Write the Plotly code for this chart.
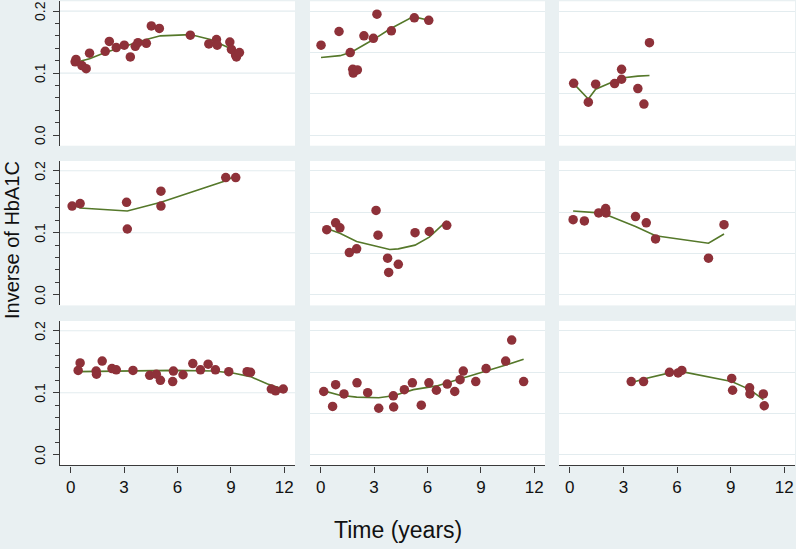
import plotly.graph_objects as go

# ---------------- data ----------------
p1_time = [0.25, 0.30, 0.63, 0.87, 1.06, 1.94, 2.17, 2.56, 3.01, 3.35, 3.63, 3.78, 4.25, 4.53, 4.98, 6.72, 7.76, 8.19, 8.23, 8.94, 9.03, 9.26, 9.31, 9.48]
p1_inv = [0.118, 0.122, 0.112, 0.107, 0.132, 0.135, 0.151, 0.141, 0.145, 0.126, 0.143, 0.149, 0.148, 0.176, 0.172, 0.161, 0.147, 0.154, 0.145, 0.150, 0.138, 0.129, 0.126, 0.133]
p1_fit_time = [0.25, 1.06, 1.94, 3.01, 4.25, 5.04, 6.72, 7.85, 8.79, 9.48]
p1_fit_inv = [0.117, 0.123, 0.133, 0.143, 0.154, 0.160, 0.162, 0.154, 0.142, 0.129]

p2_time = [0.02, 1.03, 1.66, 1.80, 1.83, 2.06, 2.43, 2.96, 3.16, 3.97, 5.26, 6.07]
p2_inv = [0.145, 0.167, 0.133, 0.106, 0.100, 0.105, 0.160, 0.156, 0.195, 0.168, 0.189, 0.185]
p2_fit_time = [0.02, 1.09, 1.74, 2.43, 2.96, 3.89, 5.20, 6.07]
p2_fit_inv = [0.125, 0.128, 0.134, 0.145, 0.154, 0.171, 0.191, 0.185]

p3_time = [0.22, 1.04, 1.45, 2.51, 2.90, 2.90, 3.81, 4.15, 4.46]
p3_inv = [0.0835, 0.053, 0.082, 0.083, 0.106, 0.090, 0.075, 0.050, 0.149]
p3_fit_time = [0.22, 1.04, 1.45, 2.51, 2.90, 3.81, 4.46]
p3_fit_inv = [0.083, 0.058, 0.074, 0.088, 0.092, 0.095, 0.096]

p4_time = [0.08, 0.53, 3.14, 3.18, 5.07, 5.07, 8.71, 9.27]
p4_inv = [0.143, 0.147, 0.149, 0.106, 0.167, 0.143, 0.189, 0.189]
p4_fit_time = [0.08, 0.53, 3.18, 5.07, 8.71, 9.27]
p4_fit_inv = [0.146, 0.140, 0.135, 0.149, 0.184, 0.192]

p5_time = [0.34, 0.84, 1.08, 1.61, 2.02, 3.11, 3.22, 3.76, 3.82, 4.36, 5.30, 6.10, 7.08]
p5_inv = [0.105, 0.116, 0.108, 0.068, 0.074, 0.136, 0.096, 0.059, 0.036, 0.049, 0.100, 0.102, 0.112]
p5_fit_time = [0.34, 1.08, 2.02, 3.22, 3.88, 4.36, 5.30, 6.10, 7.08]
p5_fit_inv = [0.107, 0.099, 0.086, 0.077, 0.073, 0.074, 0.080, 0.093, 0.119]

p6_time = [0.19, 0.82, 1.62, 2.01, 2.03, 3.68, 4.28, 4.80, 7.76, 8.63]
p6_inv = [0.121, 0.119, 0.132, 0.139, 0.132, 0.126, 0.116, 0.090, 0.059, 0.113]
p6_fit_time = [0.19, 0.82, 1.62, 2.05, 3.68, 4.80, 7.76, 8.63]
p6_fit_inv = [0.135, 0.134, 0.132, 0.129, 0.110, 0.095, 0.083, 0.098]

p7_time = [0.42, 0.53, 1.43, 1.45, 1.77, 2.32, 2.56, 3.50, 4.44, 4.81, 5.04, 5.73, 5.77, 6.31, 6.86, 7.29, 7.72, 8.13, 8.88, 9.91, 10.10, 11.27, 11.51, 11.94]
p7_inv = [0.136, 0.148, 0.135, 0.130, 0.151, 0.139, 0.137, 0.136, 0.128, 0.130, 0.120, 0.118, 0.135, 0.129, 0.147, 0.137, 0.146, 0.137, 0.134, 0.134, 0.133, 0.106, 0.103, 0.106]
p7_fit_time = [0.42, 3.56, 5.79, 8.04, 9.17, 10.10, 11.06, 11.94]
p7_fit_inv = [0.134, 0.135, 0.136, 0.135, 0.1315, 0.126, 0.114, 0.106]

p8_time = [0.17, 0.67, 0.84, 1.31, 2.04, 2.64, 3.26, 4.08, 4.10, 4.70, 5.15, 5.65, 6.08, 6.50, 7.11, 7.53, 7.83, 8.01, 8.71, 9.29, 10.39, 10.73, 11.40]
p8_inv = [0.102, 0.078, 0.113, 0.098, 0.116, 0.100, 0.075, 0.095, 0.077, 0.105, 0.116, 0.080, 0.116, 0.104, 0.114, 0.102, 0.121, 0.135, 0.118, 0.139, 0.151, 0.185, 0.118]
p8_fit_time = [0.17, 1.08, 2.02, 3.26, 4.08, 5.21, 6.52, 7.83, 9.33, 10.45, 11.40]
p8_fit_inv = [0.103, 0.096, 0.093, 0.092, 0.095, 0.105, 0.111, 0.122, 0.135, 0.145, 0.154]

p9_time = [3.44, 4.13, 5.58, 6.06, 6.27, 9.06, 9.11, 10.06, 10.08, 10.83, 10.88]
p9_inv = [0.118, 0.118, 0.133, 0.132, 0.136, 0.123, 0.104, 0.108, 0.098, 0.098, 0.079]
p9_fit_time = [3.44, 4.13, 5.58, 6.27, 9.06, 10.08, 10.83]
p9_fit_inv = [0.116, 0.122, 0.132, 0.134, 0.118, 0.105, 0.089]

x_ticks = [0, 3, 6, 9, 12]
y_ticks = [0.0, 0.1, 0.2]
y_tick_labels = ["0.0", "0.1", "0.2"]
x_title = "Time (years)"
y_title = "Inverse of HbA1C"

panels = [
    (p1_time, p1_inv, p1_fit_time, p1_fit_inv),
    (p2_time, p2_inv, p2_fit_time, p2_fit_inv),
    (p3_time, p3_inv, p3_fit_time, p3_fit_inv),
    (p4_time, p4_inv, p4_fit_time, p4_fit_inv),
    (p5_time, p5_inv, p5_fit_time, p5_fit_inv),
    (p6_time, p6_inv, p6_fit_time, p6_fit_inv),
    (p7_time, p7_inv, p7_fit_time, p7_fit_inv),
    (p8_time, p8_inv, p8_fit_time, p8_fit_inv),
    (p9_time, p9_inv, p9_fit_time, p9_fit_inv),
]

# ---------------- layout geometry ----------------
W, H = 796, 549
BG = "#e9f0f2"
GRID = "#e3ecef"
AXIS = "#3a3a3a"
MARKER = "#8e3139"
LINE = "#55782a"
FONT = "Liberation Sans, Arial, sans-serif"

col_px = [(60, 295), (310, 545), (559, 795)]
row_px = [(1.3, 145.7), (161, 305.4), (321, 465.4)]
x_range = [-0.6, 12.6]
y_range = [-0.0172, 0.2157]

fig = go.Figure()
layout = {}
shapes = []
annotations = []

for i, (t, v, ft, fv) in enumerate(panels):
    r, c = divmod(i, 3)
    n = i + 1
    xa = "x" if n == 1 else f"x{n}"
    ya = "y" if n == 1 else f"y{n}"
    fig.add_trace(go.Scatter(x=ft, y=fv, mode="lines", xaxis=xa, yaxis=ya,
                             line=dict(color=LINE, width=1.6), showlegend=False,
                             hoverinfo="skip"))
    fig.add_trace(go.Scatter(x=t, y=v, mode="markers", xaxis=xa, yaxis=ya,
                             marker=dict(color=MARKER, size=9.5, line=dict(width=0)),
                             showlegend=False))
    x0, x1 = col_px[c]
    y0, y1 = row_px[r]
    xkey = "xaxis" if n == 1 else f"xaxis{n}"
    ykey = "yaxis" if n == 1 else f"yaxis{n}"
    xd = dict(domain=[x0 / W, x1 / W], range=x_range, anchor=ya,
              showgrid=False, zeroline=False, fixedrange=True)
    if r == 2:
        xd.update(showline=True, linecolor=AXIS, linewidth=1.2, ticks="outside",
                  ticklen=6, tickcolor=AXIS, tickwidth=1.2, tickmode="array",
                  tickvals=x_ticks, ticktext=[str(k) for k in x_ticks],
                  tickfont=dict(size=17, color="#111111", family=FONT))
    else:
        xd.update(showline=False, showticklabels=False, ticks="")
    yd = dict(domain=[1 - y1 / H, 1 - y0 / H], range=y_range, anchor=xa,
              zeroline=False, fixedrange=True)
    if c == 0:
        yd.update(showline=True, linecolor=AXIS, linewidth=1.2, ticks="outside",
                  ticklen=6, tickcolor=AXIS, tickwidth=1.2, tickmode="array",
                  tickvals=y_ticks, ticktext=y_tick_labels, showticklabels=False,
                  showgrid=False,
                  minor=dict(tickmode="array", tickvals=[0.02, 0.04, 0.06, 0.08, 0.12, 0.14, 0.16, 0.18],
                             ticks="outside", ticklen=3.5, tickcolor=AXIS, tickwidth=1.0,
                             showgrid=False))
        for gv in y_ticks[1:]:
            shapes.append(dict(type="line", xref=f"{xa} domain", yref=ya, x0=0, x1=1,
                               y0=gv, y1=gv, line=dict(color=GRID, width=1.2), layer="below"))
        # rotated tick labels, positioned on the axis scale
        for tv, tt in zip(y_ticks, y_tick_labels):
            annotations.append(dict(text=tt, xref="paper", yref=ya, x=40 / W, y=tv,
                                    showarrow=False, xanchor="center", yanchor="middle",
                                    textangle=-90,
                                    font=dict(size=14, color="#111111", family=FONT)))
    else:
        yd.update(showline=False, showticklabels=False, ticks="", tickmode="array",
                  tickvals=[0.0, 0.2 / 3, 0.4 / 3, 0.2], showgrid=True,
                  gridcolor=GRID, gridwidth=1.2)
    layout[xkey] = xd
    layout[ykey] = yd

annotations += [
    dict(text=x_title, x=398 / W, y=1 - 530 / H, xref="paper", yref="paper",
         showarrow=False, xanchor="center", yanchor="middle",
         font=dict(size=23, family=FONT, color="#111111")),
    dict(text=y_title, x=12 / W, y=1 - 240 / H, xref="paper", yref="paper",
         showarrow=False, xanchor="center", yanchor="middle", textangle=-90,
         font=dict(size=20, family=FONT, color="#111111")),
]

fig.update_layout(**layout)
fig.update_layout(
    width=W, height=H,
    margin=dict(l=0, r=0, t=0, b=0),
    paper_bgcolor=BG, plot_bgcolor="white",
    font=dict(family=FONT, color="#111111"),
    shapes=shapes,
    annotations=annotations,
)

fig.write_html("out.html")
